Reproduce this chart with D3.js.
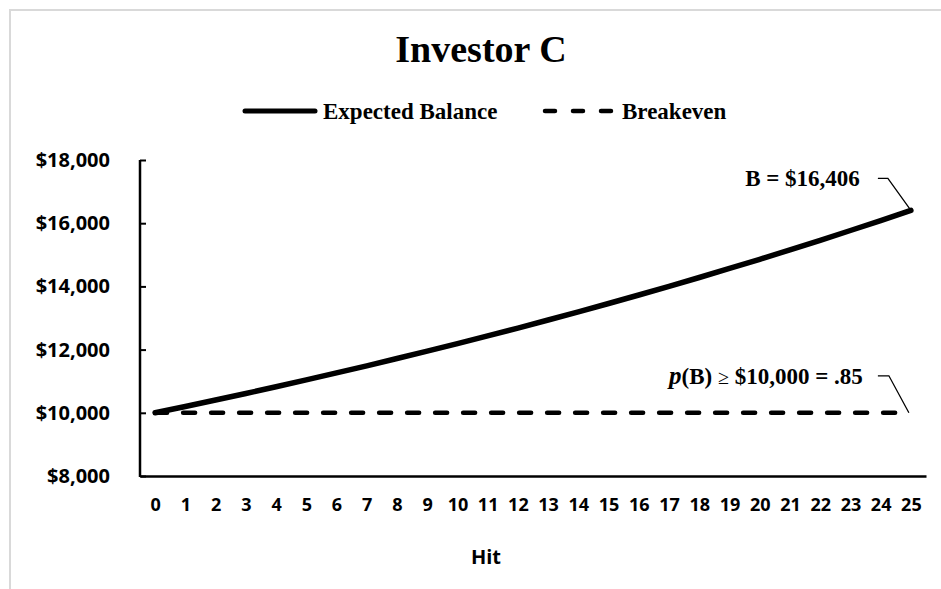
<!DOCTYPE html>
<html lang="en">
  <head>
    <meta charset="utf-8">
    <title>Investor C</title>
    <style>
      body { margin: 0; background: #fff; }
    </style>
  </head>
  <body>

  <script src="https://cdn.jsdelivr.net/npm/d3@7"></script>
  <script>
    // chart data
    var hits = [0,1,2,3,4,5,6,7,8,9,10,11,12,13,14,15,16,17,18,19,20,21,22,23,24,25];
    var expectedBalance = [10000,10200,10404,10612,10824,11041,11262,11487,11717,11951,12190,12434,12682,
                           12936,13195,13459,13728,14002,14282,14568,14859,15157,15460,15769,16084,16406];
    var breakeven = [10000,10000,10000,10000,10000,10000,10000,10000,10000,10000,10000,10000,10000,
                     10000,10000,10000,10000,10000,10000,10000,10000,10000,10000,10000,10000,10000];
    var yTicks = [8000,10000,12000,14000,16000,18000];
    var seriesNames = ["Expected Balance","Breakeven"];

    var serif = "'Liberation Serif','Times New Roman',serif";
    var sans = "'Open Sans','Noto Sans',sans-serif";

    var svgcanvas = d3.select("body").append("svg").attr("width", 941).attr("height", 589);

    // light frame of the chart area
    svgcanvas.append("rect")
      .attr("x", 10).attr("y", 10)
      .attr("width", 960).attr("height", 620)
      .style("fill", "none").style("stroke", "#d9d9d9").style("stroke-width", 2);

    var x = d3.scalePoint().domain(hits).range([140, 926]).padding(0.5);
    var y = d3.scaleLinear().domain([8000, 18000]).range([476, 160]);

    // Title
    svgcanvas.append("text")
      .attr("x", 481).attr("y", 62)
      .attr("text-anchor", "middle")
      .style("font-family", serif).style("font-weight", "bold").style("font-size", "38px")
      .text("Investor C");

    // Legend
    var legend = svgcanvas.append("g");
    legend.append("line")
      .attr("x1", 245).attr("x2", 315).attr("y1", 111).attr("y2", 111)
      .style("stroke", "#000").style("stroke-width", 5).style("stroke-linecap", "round");
    legend.append("text")
      .attr("x", 323).attr("y", 119)
      .style("font-family", serif).style("font-weight", "bold").style("font-size", "23px")
      .text(seriesNames[0]);
    legend.append("line")
      .attr("x1", 545).attr("x2", 613).attr("y1", 111).attr("y2", 111)
      .style("stroke", "#000").style("stroke-width", 4.5).style("stroke-linecap", "round")
      .style("stroke-dasharray", "10,18");
    legend.append("text")
      .attr("x", 622).attr("y", 119)
      .style("font-family", serif).style("font-weight", "bold").style("font-size", "23px")
      .text(seriesNames[1]);

    // Y axis, ticks pointing inside
    var yAxis = svgcanvas.append("g")
      .attr("transform", "translate(140,0)")
      .call(d3.axisRight(y).tickValues(yTicks).tickSize(6).tickFormat(function(d){ return ""; }));
    yAxis.select(".domain").remove();
    yAxis.selectAll("line").style("stroke", "#000").style("stroke-width", 2);
    svgcanvas.append("line")
      .attr("x1", 140).attr("x2", 140).attr("y1", y(18000)).attr("y2", y(8000) + 1)
      .style("stroke", "#000").style("stroke-width", 2.5);

    svgcanvas.append("g").selectAll("text").data(yTicks)
      .enter().append("text")
      .attr("x", 110)
      .attr("y", function(d){ return y(d); })
      .attr("dy", ".35em")
      .attr("text-anchor", "end")
      .style("font-family", sans).style("font-weight", "bold").style("font-size", "20px")
      .text(function(d){ return "$" + d3.format(",")(d); });

    // X axis line and category labels
    var xAxis = svgcanvas.append("g")
      .attr("transform", "translate(0," + y(8000) + ")")
      .call(d3.axisBottom(x).tickSize(0).tickPadding(22));
    xAxis.select(".domain").style("stroke", "#000").style("stroke-width", 2.5);
    xAxis.selectAll("text")
      .style("font-family", sans).style("font-weight", "bold").style("font-size", "18px")
      .attr("fill", "#000");

    svgcanvas.append("text")
      .attr("x", 486).attr("y", 564)
      .attr("text-anchor", "middle")
      .style("font-family", sans).style("font-weight", "bold").style("font-size", "20px")
      .text("Hit");

    // Series lines
    var line = d3.line()
      .x(function(d, i){ return x(hits[i]); })
      .y(function(d){ return y(d); });

    svgcanvas.append("path")
      .datum(breakeven)
      .attr("d", line)
      .style("fill", "none").style("stroke", "#000").style("stroke-width", 4.5)
      .style("stroke-linecap", "round").style("stroke-dasharray", "12,16");

    svgcanvas.append("path")
      .datum(expectedBalance)
      .attr("d", line)
      .style("fill", "none").style("stroke", "#000").style("stroke-width", 5.5)
      .style("stroke-linecap", "round").style("stroke-linejoin", "round");

    // Callouts at the last hit
    var lastX = x(hits[hits.length - 1]);
    var lastB = y(expectedBalance[expectedBalance.length - 1]);
    var lastE = y(breakeven[breakeven.length - 1]);

    svgcanvas.append("path")
      .attr("d", "M " + (lastX - 33) + " " + (lastB - 32) + " h 10 L " + lastX + " " + lastB)
      .style("fill", "none").style("stroke", "#000").style("stroke-width", 1.3);
    svgcanvas.append("text")
      .attr("x", lastX - 51).attr("y", lastB - 24)
      .attr("text-anchor", "end")
      .style("font-family", serif).style("font-weight", "bold").style("font-size", "23px")
      .text("B = $" + d3.format(",")(expectedBalance[expectedBalance.length - 1]));

    svgcanvas.append("path")
      .attr("d", "M " + (lastX - 33) + " " + (lastE - 37) + " h 11 L " + (lastX - 2) + " " + lastE)
      .style("fill", "none").style("stroke", "#000").style("stroke-width", 1.3);
    var pText = svgcanvas.append("text")
      .attr("x", lastX - 48).attr("y", lastE - 29)
      .attr("text-anchor", "end")
      .style("font-family", serif).style("font-weight", "bold").style("font-size", "23px");
    pText.append("tspan").style("font-style", "italic").style("font-size", "25px").text("p");
    pText.append("tspan").text("(B) ");
    pText.append("tspan").style("font-weight", "normal").style("font-size", "20px").text("\u2265");
    pText.append("tspan").text(" $10,000 = .85");

  </script>
  </body>
</html>
